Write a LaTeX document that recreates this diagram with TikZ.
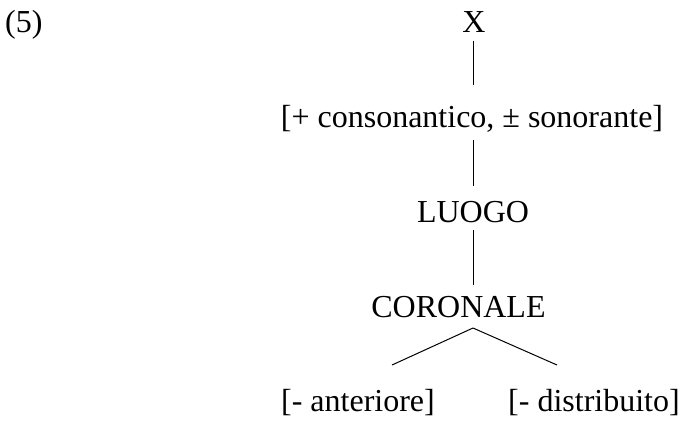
\documentclass[tikz,border=0pt]{standalone}
\usepackage{fontspec}
\setmainfont{Liberation Serif}
\tikzset{
  feat/.style={inner xsep=0pt, inner ysep=4pt, text height=22pt, text depth=7pt,
    anchor=base, font=\fontsize{32}{38}\selectfont},
}
\begin{document}
\begin{tikzpicture}[x=1pt, y=-1pt]
      \useasboundingbox (0,0) rectangle (681,421);
      \node[feat, anchor=base west] (num) at (5,32) {(5)};
      \draw
        (474,32) node[feat] (x){X}
        (472,127) node[feat] (cons){[+ consonantico, ± sonorante]}
        (473,222) node[feat] (luogo){LUOGO}
        (458.5,317) node[feat] (cor){CORONALE}
        (358,411) node[feat] (ant){[- anteriore]}
        (594,411) node[feat] (dist){[- distribuito]};
      \coordinate (fork) at (473,328);
      \begin{scope}[-, line width=1pt]
        \draw[shorten <=-2pt, shorten >=16pt] (x.south -| luogo) to (cons.north -| luogo);
        \draw[shorten <=2pt, shorten >=10pt] (cons.south -| luogo) to (luogo.north);
        \draw[shorten <=-3pt, shorten >=6pt] (luogo.south) to (cor.north -| luogo);
        \draw (fork) to ++(-81,37);
        \draw (fork) to ++(84,37);
      \end{scope}
    \end{tikzpicture}
\end{document}
